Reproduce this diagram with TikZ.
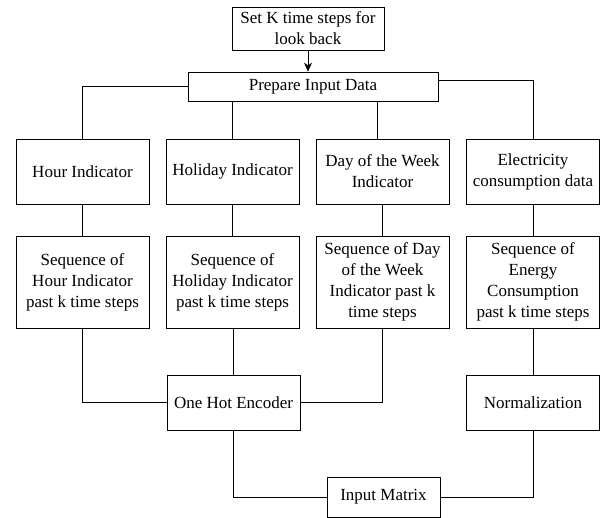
\documentclass[tikz,border=0pt]{standalone}
\usepackage{fontspec}
\setmainfont{Liberation Serif}
\usepackage{tikz}
\usetikzlibrary{arrows.meta}

\begin{document}
\begin{tikzpicture}[x=1pt,y=-1pt,>={Stealth[length=9pt,width=8pt]},line width=0.8pt,font=\fontsize{17}{21}\selectfont]
    \tikzstyle{every node}=[draw=black,fill=white,align=center,inner sep=0pt,line width=0.8pt]
    \tikzstyle{upper}=[minimum width=133pt,minimum height=65pt]
    \tikzstyle{seq}=[minimum width=133pt,minimum height=92pt]
    \tikzstyle{lower}=[minimum width=133pt,minimum height=55pt]
    \useasboundingbox (0,0) rectangle (605,518);
    \node[minimum width=152pt,minimum height=43pt] (setk) at (308,28.5) {Set K time steps for\\look back};
    \node[minimum width=250pt,minimum height=29pt] (prep) at (313,86.5) {Prepare Input Data};
    \node[upper] (hour) at (82.5,171.5)  {Hour Indicator};
    \node[upper] (hol)  at (232.5,171.5) {Holiday Indicator};
    \node[upper] (day)  at (382.5,171.5) {Day of the Week\\Indicator};
    \node[upper] (elec) at (533,171.5)   {Electricity\\consumption data};
    \node[seq] (seqhour) at (82.5,282)  {Sequence of\\Hour Indicator\\past k time steps};
    \node[seq] (seqhol)  at (232.5,282) {Sequence of\\Holiday Indicator\\past k time steps};
    \node[seq] (seqday)  at (382.5,282) {Sequence of Day\\of the Week\\Indicator past k\\time steps};
    \node[seq] (seqcons) at (533,282)   {Sequence of\\Energy\\Consumption\\past k time steps};
    \node[lower] (ohe)  at (233.5,402.5) {One Hot Encoder};
    \node[lower] (norm) at (533,402.5)   {Normalization};
    \node[minimum width=113pt,minimum height=40pt] (input) at (383.5,497) {Input Matrix};
    \draw[->] (setk.south) -- (setk.south |- prep.north);
    \draw (prep.west) -| (hour.north);
    \draw ([yshift=6.5pt]prep.east) -| (elec.north);
    \draw (prep.south -| hol.north) -- (hol.north);
    \draw ([xshift=-5.5pt]prep.south -| day.north) -- ([xshift=-5.5pt]day.north);
    \draw (hour) -- (seqhour)
          (hol)  -- (seqhol)
          (day)  -- (seqday)
          (elec) -- (seqcons);
    \draw (seqhour.south) |- (ohe.west);
    \draw (seqhol.south -| ohe.north) -- (ohe.north);
    \draw (seqday.south) |- (ohe.east);
    \draw (seqcons) -- (norm);
    \draw (ohe.south) |- (input.west);
    \draw (norm.south) |- (input.east);
\end{tikzpicture}
\end{document}
